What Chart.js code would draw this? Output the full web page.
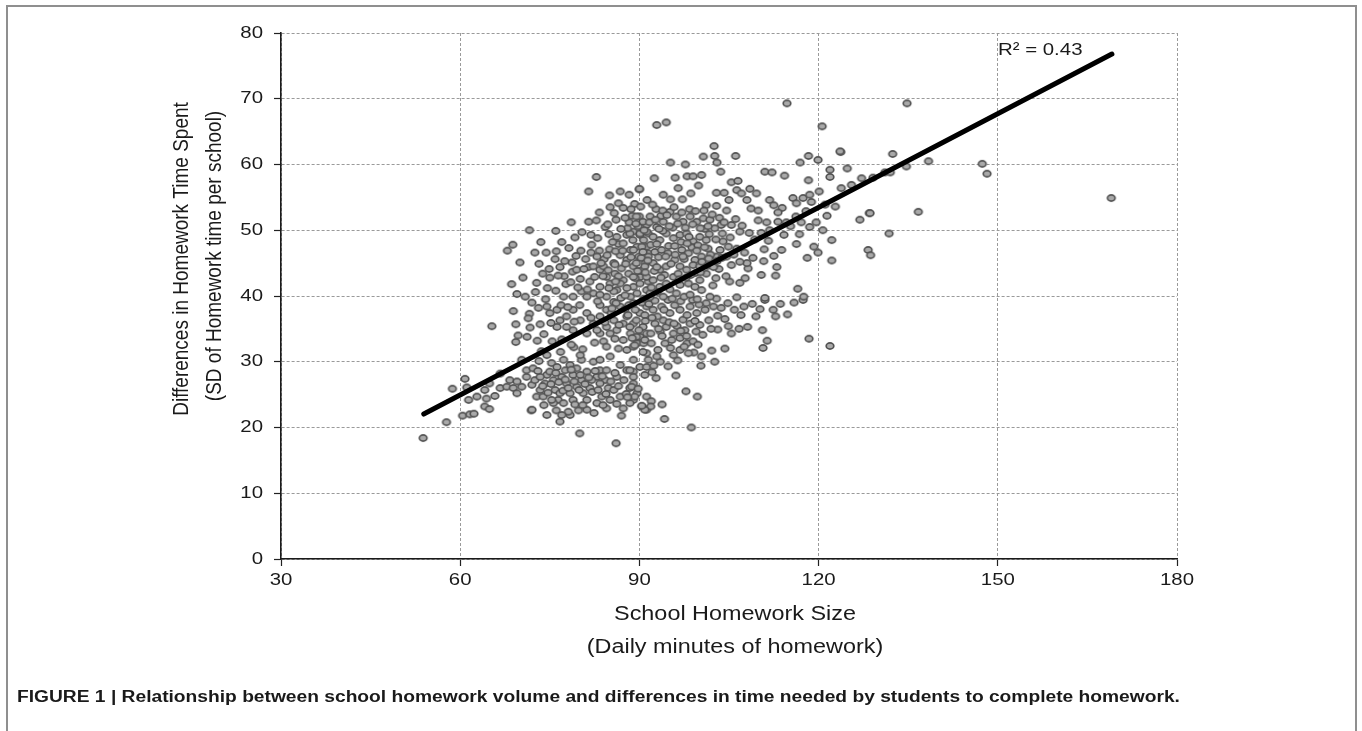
<!DOCTYPE html>
<html>
<head>
<meta charset="utf-8">
<script src="https://cdn.jsdelivr.net/npm/chart.js@4.4.1/dist/chart.umd.min.js"></script>
<style>
html,body{margin:0;padding:0;background:#fff;}
#wrap{width:1362px;height:731px;position:relative;}
</style>
</head>
<body>
<div id="wrap"><canvas id="c" width="1362" height="731"></canvas></div>
<script>
// ---- data ----
const xTicks = [30, 60, 90, 120, 150, 180];
const yTicks = [0, 10, 20, 30, 40, 50, 60, 70, 80];

// low cluster (y below ~31), x = daily minutes, y = SD of homework time
const lowCluster = [
[60.8,27.4],[61.1,26.1],[58.7,25.9],[57.7,20.8],[53.8,18.4],[60.4,21.8],[61.6,22.0],[62.3,22.1],[64.1,23.2],[64.9,22.8],
[61.4,24.2],[62.8,24.7],[64.4,24.4],[65.8,24.8],[66.7,26.0],[67.8,26.2],[68.3,27.2],[68.9,26.0],[69.5,25.2],[70.3,26.2],
[71.1,27.7],[72.0,26.5],[72.5,27.2],[72.8,24.7],[73.4,25.7],[74.2,26.7],[74.5,28.0],[75.0,28.5],[75.6,27.2],[75.9,25.7],
[76.4,24.2],[77.0,27.7],[77.6,28.7],[77.8,26.7],[78.4,25.2],[78.9,28.0],[79.5,26.2],[80.3,30.3],[80.3,27.2],[80.6,25.2],
[81.7,26.0],[82.3,30.0],[82.9,27.7],[83.4,28.7],[83.7,24.7],[84.3,27.2],[84.8,26.0],[85.1,30.8],[85.7,25.7],[86.2,27.7],
[86.8,24.7],[87.3,22.9],[87.9,28.7],[88.4,26.0],[89.0,26.7],[89.6,25.2],[90.1,29.2],[90.4,23.2],[91.2,24.7],[74.5,21.9],
[76.7,20.9],[78.4,21.9],[79.8,22.6],[71.9,22.6],[64.1,25.7],[64.9,26.7],[66.7,28.2],[69.5,27.0],[70.3,30.3],[71.1,28.7],
[72.0,22.7],[78.1,22.4],[80.0,19.1],[86.1,17.6],[91.2,22.7],[75.6,23.7],[77.3,23.7],
[75.3,29.8],[76.2,29.2],[77.3,30.3],[78.4,29.5],[79.5,29.0],[81.2,28.5],[82.0,27.2],[83.4,26.7],[84.5,28.7],[86.8,29.5],
[89.0,28.5],[90.9,28.0],[76.7,25.2],[78.9,24.2],[81.2,24.2],[82.9,23.7],[85.1,24.2],[89.0,24.2],[84.5,22.9],[81.2,22.7],
[75.3,24.2],[73.9,24.7],[73.4,27.7],[72.2,29.0],[80.1,31.0],[83.4,30.3],[89.0,30.3],[91.2,29.2],
[92.1,28.4],[92.8,27.5],[96.1,27.9],[97.8,25.5],[99.7,24.7],[93.8,23.5],[94.2,21.3],[98.7,20.0],[92.0,24.0],[91.9,23.2],
[90.9,22.7],[90.4,23.3],[88.4,28.7],[89.0,27.7],[88.7,26.2],[89.8,25.9],[89.2,24.7],[88.4,23.7],
[102.6,30.0],[100.4,30.8],[100.3,29.4],
[73.0,28.6],[73.8,26.3],[74.7,25.3],[75.2,26.6],[76.0,28.3],[76.5,26.9],[77.2,25.6],[77.6,27.3],[78.1,26.0],[78.6,28.8],
[79.1,27.0],[79.9,25.7],[80.1,28.0],[80.9,26.6],[81.5,27.6],[82.1,25.4],[82.6,28.6],[83.1,25.7],[83.8,27.8],[84.4,25.1],
[85.2,27.0],[85.9,28.3],[86.5,26.3],[87.4,27.2],[87.8,25.1],[74.0,23.4],[76.1,22.6],[77.0,21.9],[79.2,23.5],[80.5,23.4],
[82.4,22.2],[83.9,23.4],[86.2,23.6],[87.0,21.8],[88.0,24.6],[73.2,30.1],[74.5,31.0],[76.8,31.5],[79.0,32.2],
[91.5,30.3],[92.4,29.4],[93.5,30.0],[94.8,29.3],[96.4,30.2]
];

// middle cluster (y roughly 31 to 40)
const midCluster = [
[68.9,37.7],[65.3,35.4],[69.3,35.7],[69.7,34.0],[69.3,33.0],[71.6,37.3],[71.7,35.2],[73.4,35.7],[74.0,34.2],[75.4,33.1],
[71.4,36.6],[74.5,38.4],[75.0,37.4],[76.2,37.9],[76.7,36.3],[77.8,36.9],[78.9,37.9],[80.1,36.3],[81.2,37.4],[82.3,35.8],
[83.4,36.9],[84.0,33.1],[84.5,37.9],[85.7,36.3],[86.2,34.8],[86.8,38.4],[87.9,36.9],[89.0,35.8],[89.6,32.8],[90.1,37.4],
[91.2,34.3],[87.9,31.8],[86.5,32.0],[85.1,34.3],[83.4,34.3],[81.2,34.3],[78.9,34.8],[77.8,35.3],[76.2,35.3],[91.2,31.3],
[80.5,31.9],[83.4,38.6],[85.7,39.1],[89.0,38.9],[91.2,38.4],[82.9,34.8],[84.5,35.3],[87.3,35.8],[88.5,34.3],[90.1,33.8],
[87.3,33.3],[89.0,32.3],[90.7,32.8],[84.5,32.3],
[108.9,38.8],[111.0,39.4],[115.9,39.0],[117.4,39.4],[112.4,37.9],[112.8,36.9],[107.0,37.1],[103.1,37.0],[104.3,36.5],[105.4,34.3],
[106.7,35.0],[108.1,35.3],[103.1,34.9],[104.9,35.4],[100.1,35.6],[99.5,34.6],[110.6,34.8],[111.4,33.2],[110.7,32.1],[118.4,33.5],
[121.9,32.4],[104.3,32.0],[102.1,31.7],[99.1,31.4],
[98.0,32.8],[96.8,33.6],[95.7,34.3],[94.5,35.3],[94.0,36.3],[92.6,35.8],[90.6,35.3],[89.5,33.8],[90.9,33.3],[92.0,32.8],
[93.1,31.8],[94.3,32.8],[95.4,33.3],[95.7,31.0],[96.8,31.8],[98.2,31.3],[92.9,30.8],[90.6,31.5],[89.2,32.5],[88.4,35.3],
[89.5,36.3],[90.9,37.1],[92.3,37.9],[93.7,38.4],[95.1,37.4],[96.8,37.9],[98.5,38.4],[99.6,37.4],[101.0,37.9],[102.4,38.4],
[97.3,36.4],[98.5,35.8],[101.2,38.9],
[85.3,37.4],[86.1,38.9],[86.6,35.6],[87.6,38.0],[88.1,37.1],[88.8,33.6],[89.3,37.9],[89.9,34.8],[90.4,39.0],[91.0,36.2],
[91.6,38.8],[91.9,34.3],[92.6,39.3],[93.0,36.9],[93.5,34.6],[94.1,37.9],[94.8,39.4],[95.0,36.0],[95.9,38.6],[96.3,35.4],
[96.9,39.2],[97.6,34.8],[98.0,37.1],[98.9,39.4],[99.3,36.2],[100.0,38.7],[100.6,34.1],[101.6,36.3],[102.0,35.0],[102.9,39.6],
[103.7,38.2],[104.8,38.9],[105.9,37.9],[106.3,39.8],[107.5,38.4],[109.5,36.9],[110.2,38.0],[113.6,38.8],[114.8,37.2],[116.5,41.1],
[75.2,35.9],[76.9,38.6],[78.0,38.3],[79.1,36.1],[80.0,38.6],[81.9,36.7],[83.0,39.2],[84.2,36.0],[85.4,38.1],[86.9,39.7],
[88.2,38.6],[71.2,33.8],[72.9,33.2],[73.6,31.6],[77.0,33.4],[78.6,32.6],[82.5,32.9],[85.9,33.5],
[95.2,32.1],[97.5,32.3],[93.8,33.9],[92.1,36.7],[93.2,35.0],[95.8,35.8],[96.9,34.7],[97.9,33.9],[99.0,33.1],[99.8,32.6],
[91.7,39.8],[95.5,39.6],[97.5,39.9],[99.7,39.5],[73.1,38.2]
];

// upper cluster (y roughly 40 to 52)
const upperCluster = [
[71.6,50.0],[79.2,48.9],[81.9,49.3],[86.5,47.9],[87.9,49.3],[89.0,49.8],[90.1,49.3],[91.2,47.5],[67.9,46.9],[68.8,47.8],
[72.5,46.6],[74.4,46.6],[75.9,45.6],[78.7,45.1],[80.2,46.9],[81.9,46.6],[83.3,46.9],[85.0,47.1],[74.9,44.1],[76.7,44.4],
[78.8,43.7],[77.4,43.0],[80.1,42.6],[81.5,44.4],[82.3,44.5],[84.1,45.6],[83.4,44.0],[84.5,42.9],[85.7,45.0],[86.8,46.2],
[87.9,45.5],[89.0,44.5],[89.9,46.0],[91.0,45.0],[68.6,41.8],[72.8,42.0],[69.5,40.3],[77.7,41.8],[81.7,42.2],[80.3,40.7],
[78.9,39.9],[77.3,39.9],[83.4,41.4],[85.1,41.9],[86.2,40.9],[87.3,42.4],[89.0,41.4],[90.1,42.9],[91.2,40.9],[88.5,39.9],
[84.5,39.9],[82.3,40.4],[82.9,46.0],[84.0,44.5],[84.8,43.9],[85.9,43.4],[87.0,44.2],[88.2,43.4],[89.3,42.7],[90.4,43.9],
[91.5,42.2],[86.8,41.9],[85.7,40.7],[87.9,41.2],[89.6,40.4],[90.7,39.6],[83.4,40.2],[81.2,39.9],[86.2,49.0],[87.3,48.0],
[88.5,47.0],[89.6,47.5],[90.7,48.5],[91.5,49.5],[91.5,46.5],
[122.2,48.5],[128.3,47.0],[128.7,46.2],[122.2,45.4],[118.1,45.8],[116.3,47.9],[119.2,47.5],[119.9,46.6],[113.8,47.0],[110.9,47.1],
[109.3,48.6],[110.4,49.6],[111.8,50.0],[113.0,44.4],[112.8,43.1],[110.4,43.2],[108.2,44.2],[108.0,45.0],[106.8,49.8],[105.4,50.8],
[103.7,50.8],[102.6,50.3],[101.7,49.4],[104.0,48.3],[103.5,47.0],[104.9,47.5],[104.6,46.0],[102.9,46.0],[105.4,44.7],[106.8,45.2],
[107.7,42.7],[106.8,42.0],[105.1,42.2],[117.5,39.9],[111.0,39.7],[102.8,42.7],[101.2,43.4],[100.1,42.4],
[88.4,49.5],[90.1,49.5],[91.2,49.8],[92.3,49.0],[93.4,48.5],[94.5,49.5],[95.7,48.8],[96.8,49.3],[97.9,49.5],[99.0,48.3],
[100.1,49.0],[101.2,48.5],[89.0,47.0],[90.4,47.5],[91.5,46.0],[92.6,46.7],[93.7,47.0],[94.8,46.5],[95.9,45.5],[97.1,47.0],
[98.2,46.5],[99.3,45.5],[100.4,46.0],[101.5,47.2],[89.5,45.0],[90.9,44.5],[92.3,45.0],[93.4,44.0],[94.5,44.5],[95.7,42.9],
[96.8,44.5],[97.9,44.0],[99.0,44.7],[100.1,44.5],[89.0,42.9],[90.1,41.9],[91.2,42.9],[92.3,42.4],[93.4,41.4],[94.5,41.9],
[96.8,41.7],[98.2,41.9],[99.3,41.4],[100.4,40.9],[91.8,40.4],[94.0,39.9],[96.2,40.4],[98.5,40.2],[101.8,39.9],
[131.8,49.5],
[85.5,48.2],[86.0,46.8],[87.2,46.9],[88.0,50.3],[88.9,48.5],[89.8,50.6],[90.3,45.8],[91.0,43.6],[91.9,47.8],[92.5,43.8],
[92.9,47.9],[93.2,45.9],[93.9,49.9],[94.2,43.2],[94.9,47.6],[95.3,44.9],[95.6,50.4],[96.0,46.3],[96.5,43.4],[97.0,48.2],
[97.5,45.6],[97.8,42.8],[98.3,49.0],[98.8,47.4],[99.4,43.5],[99.8,47.7],[100.5,45.2],[100.9,50.2],[101.4,44.6],[101.9,46.3],
[102.3,41.6],[102.8,48.6],[103.3,44.1],[103.9,49.5],[104.5,43.0],[105.2,48.9],[105.8,46.3],[106.3,47.2],[107.2,50.7],[107.6,46.6],
[108.4,49.6],[109.0,45.8],[109.9,51.5],[110.8,45.3],[111.6,48.4],[112.5,46.1],[114.2,49.3],[115.3,50.6],[116.8,49.4],[117.9,52.9],
[119.6,51.2],[120.7,50.0],[121.1,53.9],[122.8,53.6],
[73.2,44.9],[75.0,42.8],[76.1,46.8],[77.0,48.2],[78.2,47.3],[79.5,44.0],[80.4,49.7],[81.0,45.6],[82.0,47.8],[83.0,48.8],
[83.9,43.0],[84.6,46.2],[79.7,41.3],[76.0,40.8],[74.3,39.5],[72.0,39.0],[70.5,42.8],[70.0,45.1],[73.5,48.2],[76.0,49.9],
[84.9,49.4],
[85.9,44.8],[86.5,43.0],[87.7,44.9],[88.6,45.9],[89.7,43.8],[90.6,46.7],[91.4,45.4],[92.0,41.3],[92.9,44.4],[93.6,42.8],
[94.4,46.0],[95.1,41.0],[95.9,47.6],[96.7,42.5],[97.3,46.0],[98.0,48.0],[98.6,43.2],[99.6,46.9],[100.2,43.6],[100.9,47.4],
[101.6,45.7],[102.4,44.4],[103.0,45.3],[103.8,45.8],
[72.6,40.6],[73.8,43.4],[74.6,41.2],[76.4,43.1],[77.5,45.3],[78.5,42.1],[79.4,46.1],[80.7,44.1],[81.3,41.0],[82.5,42.9],
[83.6,45.0],[84.9,41.2],[86.0,42.2],[87.6,40.1],[70.9,39.9],[93.0,40.6]
];

// top cluster (y above ~51)
const topCluster = [
[82.8,58.1],[81.5,55.9],[85.0,55.3],[86.8,55.9],[88.3,55.4],[90.0,56.2],[85.1,53.5],[86.5,54.1],[83.3,52.7],[81.5,51.3],
[82.8,51.5],[78.6,51.2],[84.3,50.5],[88.8,52.2],[90.0,52.1],[88.3,51.2],[91.2,50.8],
[95.2,60.3],[100.7,61.2],[102.6,61.3],[106.1,61.3],[116.9,60.3],[118.3,61.3],[119.9,60.7],[123.7,61.9],[98.0,58.2],[99.0,58.2],
[103.6,58.9],[111.0,58.9],[112.2,58.8],[114.3,58.3],[118.3,57.6],[121.9,59.2],[124.8,59.4],[121.9,58.1],[105.4,57.3],[106.5,57.5],
[90.0,56.3],[94.0,55.4],[95.2,54.7],[97.2,54.7],[98.6,55.6],[102.9,55.7],[104.2,55.7],[105.0,54.6],[106.3,56.1],[107.1,55.6],
[108.5,56.3],[108.0,54.6],[109.6,55.6],[111.8,54.6],[112.5,53.8],[113.9,53.4],[115.7,54.9],[116.3,54.1],[117.4,54.9],[118.5,55.4],
[118.8,54.3],[120.1,55.9],[123.8,56.4],[125.5,56.9],[127.2,57.9],[98.4,53.2],[104.6,53.0],[106.1,51.7],[108.7,53.3],[109.9,53.0],
[111.3,51.2],[113.2,52.7],[113.2,51.3],[114.6,51.2],[116.2,52.1],[117.1,51.2],[118.5,50.5],[121.4,52.2],[126.9,51.6],[128.5,52.6],
[89.5,52.1],[90.6,51.3],[91.8,52.1],[92.9,50.5],[94.0,51.3],[95.1,52.8],[96.2,52.1],[97.3,51.3],[98.5,52.1],[99.6,51.3],
[100.7,51.8],[101.8,51.6],
[132.4,61.6],[138.4,60.5],[134.7,59.7],[131.1,58.8],[132.0,58.8],[129.1,58.0],[147.4,60.1],[148.2,58.6],[169.0,54.9],[128.6,52.6],
[136.7,52.8],
[92.9,66.0],[94.5,66.4],[114.7,69.3],[120.6,65.8],[134.8,69.3],[123.6,62.0],[102.5,62.8],
[86.1,51.6],[87.3,53.4],[89.2,54.0],[91.3,54.6],[92.8,53.2],[93.6,52.2],[96.5,56.4],[99.9,56.8],[101.2,53.8],[100.4,58.4],
[103.0,60.3],[97.7,60.0],[96.0,58.0],[92.5,57.9],
[84.7,50.9],[85.8,52.6],[86.9,50.2],[87.6,51.9],[88.6,53.2],[89.4,51.0],[90.2,53.6],[90.8,50.0],[91.7,51.2],[92.2,53.9],
[92.7,51.6],[93.3,50.2],[93.9,53.0],[94.6,52.3],[95.0,50.6],[95.8,53.5],[96.4,51.0],[97.1,52.7],[97.7,50.4],[98.9,50.9],
[99.4,52.9],[100.2,50.3],[100.8,53.0],[101.5,50.6],[102.2,52.4],[102.9,53.7],[103.4,51.9],[104.2,51.2]
];

// fitted trend line end points
const trendX = [53.9, 169.1];
const trendY = [22.05, 76.8];

const fitLabel = 'R\u00B2 = 0.43';
const yTitle = ['Differences in Homework Time Spent', '(SD of Homework time per school)'];
const xTitle = ['School Homework Size', '(Daily minutes of homework)'];
const caption = 'FIGURE 1 | Relationship between school homework volume and differences in time needed by students to complete homework.';

// ---- build ----
const toPts = arr => arr.map(p => ({x: p[0], y: p[1]}));
const allPoints = [].concat(toPts(lowCluster), toPts(midCluster), toPts(upperCluster), toPts(topCluster));
const trendPts = trendX.map((x, i) => ({x: x, y: trendY[i]}));

const FONT = '"Liberation Sans", Arial, Helvetica, sans-serif';
const STRETCH = 1.2; // the reference figure is stretched horizontally

// elliptical ring marker (the reference markers are wider than tall)
const marker = document.createElement('canvas');
marker.width = 12; marker.height = 10;
(function () {
  const m = marker.getContext('2d');
  m.beginPath();
  m.ellipse(6, 5, 3.8, 3.1, 0, 0, Math.PI * 2);
  m.fillStyle = '#a9a9a9';
  m.fill();
  m.lineWidth = 1.7;
  m.strokeStyle = '#535353';
  m.stroke();
})();

function drawText(ctx, text, x, y, font, align, rotate) {
  ctx.save();
  ctx.translate(x, y);
  ctx.scale(STRETCH, 1);
  if (rotate) ctx.rotate(-Math.PI / 2);
  ctx.font = font;
  ctx.textAlign = align;
  ctx.textBaseline = 'middle';
  ctx.fillText(text, 0, 0);
  ctx.restore();
}

const decorations = {
  id: 'decorations',
  afterDraw(chart) {
    const ctx = chart.ctx;
    const xs = chart.scales.x, ys = chart.scales.y;
    ctx.save();
    // frame
    ctx.strokeStyle = '#8f8f8f';
    ctx.lineWidth = 2;
    ctx.strokeRect(7, 6, 1349, 760);
    ctx.fillStyle = '#1a1a1a';
    // tick labels, placed by the library's scales
    const tickFont = '17px ' + FONT;
    xs.ticks.forEach(t => drawText(ctx, String(t.value), xs.getPixelForValue(t.value), ys.bottom + 21, tickFont, 'center'));
    ys.ticks.forEach(t => drawText(ctx, String(t.value), xs.left - 18, ys.getPixelForValue(t.value), tickFont, 'right'));
    // R^2 label
    drawText(ctx, fitLabel, 998, 50, '17px ' + FONT, 'left');
    // x title
    drawText(ctx, xTitle[0], 735, 615, '19.5px ' + FONT, 'center');
    drawText(ctx, xTitle[1], 735, 648, '19.5px ' + FONT, 'center');
    // y title
    drawText(ctx, yTitle[0], 182, 259, '19px ' + FONT, 'center', true);
    drawText(ctx, yTitle[1], 215, 256, '19px ' + FONT, 'center', true);
    // caption
    drawText(ctx, caption, 17, 698, 'bold 16px ' + FONT, 'left');
    ctx.restore();
  }
};

new Chart(document.getElementById('c'), {
  type: 'scatter',
  data: {
    datasets: [
      {
        type: 'line',
        data: trendPts,
        borderColor: '#000',
        borderWidth: 5,
        borderCapStyle: 'round',
        pointRadius: 0,
        fill: false,
        order: 0
      },
      {
        type: 'scatter',
        data: allPoints,
        pointStyle: marker,
        pointRadius: 4,
        order: 1
      }
    ]
  },
  options: {
    responsive: false,
    animation: false,
    events: [],
    layout: {padding: {top: 33, right: 185, left: 0, bottom: 0}},
    plugins: {legend: {display: false}, tooltip: {enabled: false}},
    scales: {
      x: {
        type: 'linear',
        min: xTicks[0],
        max: xTicks[xTicks.length - 1],
        afterFit: s => { s.height = 172; },
        afterBuildTicks: s => { s.ticks = xTicks.map(v => ({value: v})); },
        ticks: {display: false},
        grid: {color: '#9a9a9a', lineWidth: 1, tickLength: 7, tickColor: '#222', tickWidth: 1.2, tickBorderDash: []},
        border: {display: true, color: '#1a1a1a', width: 1.6, dash: [3, 2]}
      },
      y: {
        type: 'linear',
        min: yTicks[0],
        max: yTicks[yTicks.length - 1],
        afterFit: s => { s.width = 281; },
        afterBuildTicks: s => { s.ticks = yTicks.map(v => ({value: v})); },
        ticks: {display: false},
        grid: {color: '#9a9a9a', lineWidth: 1, tickLength: 7, tickColor: '#222', tickWidth: 1.2, tickBorderDash: []},
        border: {display: true, color: '#1a1a1a', width: 1.6, dash: [3, 2]}
      }
    }
  },
  plugins: [decorations]
});
</script>
</body>
</html>
